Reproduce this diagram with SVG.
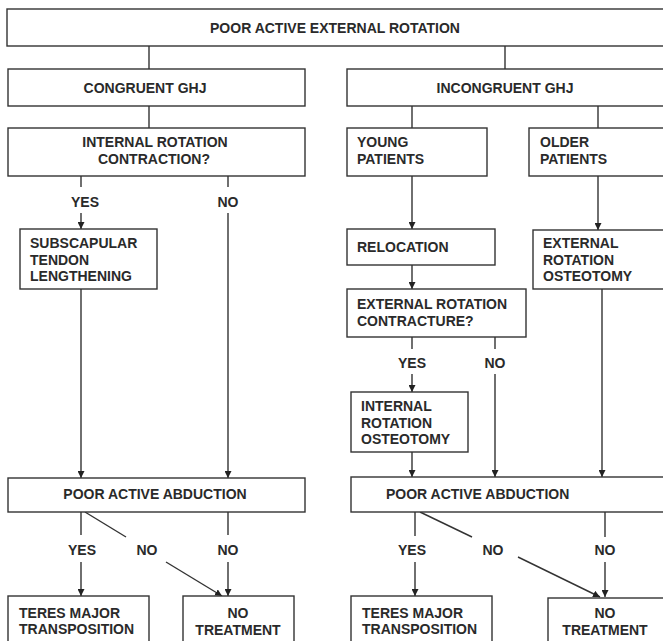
<svg xmlns="http://www.w3.org/2000/svg" width="663" height="641" viewBox="0 0 663 641">
<defs>
<marker id="ah" viewBox="0 0 10 10" refX="10" refY="5" markerWidth="7" markerHeight="7" markerUnits="userSpaceOnUse" orient="auto">
<path d="M0,0 L10,5 L0,10 z" fill="#222"/>
</marker>
</defs>
<style>
rect{fill:#fff;stroke:#333;stroke-width:1.4}
text{font-family:"Liberation Sans",Arial,sans-serif;font-size:14px;font-weight:bold;fill:#2a2a2a}
.c{text-anchor:middle}
#connectors line{stroke:#333;stroke-width:1.4;fill:none}
.a{marker-end:url(#ah)}
</style>
<rect x="0" y="0" width="663" height="641" style="fill:#fff;stroke:none"/>
<g id="connectors">
<line x1="149" y1="46" x2="149" y2="69"/>
<line x1="505" y1="46" x2="505" y2="69"/>
<line x1="149" y1="106" x2="149" y2="128"/>
<line x1="412" y1="106" x2="412" y2="128"/>
<line x1="598" y1="106" x2="598" y2="128"/>
<line x1="81" y1="176" x2="81" y2="187"/>
<line class="a" x1="81" y1="213" x2="81" y2="229"/>
<line x1="228" y1="176" x2="228" y2="187"/>
<line class="a" x1="228" y1="213" x2="228" y2="478"/>
<line class="a" x1="81" y1="289" x2="81" y2="478"/>
<line class="a" x1="412" y1="176" x2="412" y2="229"/>
<line class="a" x1="598" y1="176" x2="598" y2="230"/>
<line class="a" x1="412" y1="265" x2="412" y2="289"/>
<line class="a" x1="602" y1="289" x2="602" y2="477"/>
<line x1="412" y1="337" x2="412" y2="349"/>
<line class="a" x1="412" y1="374" x2="412" y2="392"/>
<line x1="495" y1="337" x2="495" y2="349"/>
<line class="a" x1="495" y1="374" x2="495" y2="477"/>
<line class="a" x1="412" y1="452" x2="412" y2="477"/>
<line x1="81" y1="512" x2="81" y2="535"/>
<line class="a" x1="81" y1="562" x2="81" y2="596"/>
<line x1="85" y1="512" x2="126" y2="537"/>
<line class="a" x1="166" y1="562" x2="222" y2="596"/>
<line x1="228" y1="512" x2="228" y2="535"/>
<line class="a" x1="228" y1="562" x2="228" y2="596"/>
<line x1="415" y1="512" x2="415" y2="536"/>
<line class="a" x1="415" y1="562" x2="415" y2="596"/>
<line x1="420" y1="512" x2="472" y2="537"/>
<line class="a" x1="518" y1="557" x2="600" y2="597"/>
<line x1="605" y1="512" x2="605" y2="537"/>
<line class="a" x1="605" y1="562" x2="605" y2="597"/>
</g>
<g id="lbl">
<text class="c" x="85" y="207">YES</text>
<text class="c" x="228" y="207">NO</text>
<text class="c" x="412" y="368">YES</text>
<text class="c" x="495" y="368">NO</text>
<text class="c" x="82" y="555">YES</text>
<text class="c" x="147" y="555">NO</text>
<text class="c" x="228" y="555">NO</text>
<text class="c" x="412" y="555">YES</text>
<text class="c" x="493" y="555">NO</text>
<text class="c" x="605" y="555">NO</text>
</g>
<g id="n1"><rect x="7" y="9" width="670" height="37"/><text class="c" x="335" y="33">POOR ACTIVE EXTERNAL ROTATION</text></g>
<g id="n2"><rect x="8" y="69" width="297" height="37"/><text class="c" x="145" y="93">CONGRUENT GHJ</text></g>
<g id="n3"><rect x="347" y="69" width="330" height="37"/><text class="c" x="505" y="93">INCONGRUENT GHJ</text></g>
<g id="n4"><rect x="8" y="128" width="297" height="48"/><text class="c" x="155" y="147">INTERNAL ROTATION</text><text class="c" x="154" y="164">CONTRACTION?</text></g>
<g id="n5"><rect x="347" y="128" width="140" height="48"/><text x="357" y="147">YOUNG</text><text x="357" y="164">PATIENTS</text></g>
<g id="n6"><rect x="529" y="128" width="148" height="48"/><text x="540" y="147">OLDER</text><text x="540" y="164">PATIENTS</text></g>
<g id="n7"><rect x="20" y="229" width="137" height="60"/><text x="30" y="248">SUBSCAPULAR</text><text x="30" y="265">TENDON</text><text x="30" y="281">LENGTHENING</text></g>
<g id="n8"><rect x="347" y="229" width="148" height="36"/><text x="357" y="252">RELOCATION</text></g>
<g id="n9"><rect x="533" y="230" width="144" height="59"/><text x="543" y="248">EXTERNAL</text><text x="543" y="265">ROTATION</text><text x="543" y="281">OSTEOTOMY</text></g>
<g id="n10"><rect x="347" y="289" width="179" height="48"/><text x="357" y="309">EXTERNAL ROTATION</text><text x="357" y="326">CONTRACTURE?</text></g>
<g id="n11"><rect x="351" y="392" width="117" height="60"/><text x="361" y="411">INTERNAL</text><text x="361" y="428">ROTATION</text><text x="361" y="444">OSTEOTOMY</text></g>
<g id="n12"><rect x="8" y="478" width="297" height="34"/><text class="c" x="155" y="499">POOR ACTIVE ABDUCTION</text></g>
<g id="n13"><rect x="351" y="477" width="326" height="35"/><text x="386" y="499">POOR ACTIVE ABDUCTION</text></g>
<g id="n14"><rect x="8" y="596" width="141" height="60"/><text x="19" y="618">TERES MAJOR</text><text x="19" y="634">TRANSPOSITION</text></g>
<g id="n15"><rect x="183" y="596" width="111" height="60"/><text class="c" x="238" y="618">NO</text><text class="c" x="238" y="635">TREATMENT</text></g>
<g id="n16"><rect x="351" y="596" width="141" height="60"/><text x="362" y="618">TERES MAJOR</text><text x="362" y="634">TRANSPOSITION</text></g>
<g id="n17"><rect x="548" y="598" width="129" height="60"/><text class="c" x="605" y="618">NO</text><text class="c" x="605" y="635">TREATMENT</text></g>
</svg>
